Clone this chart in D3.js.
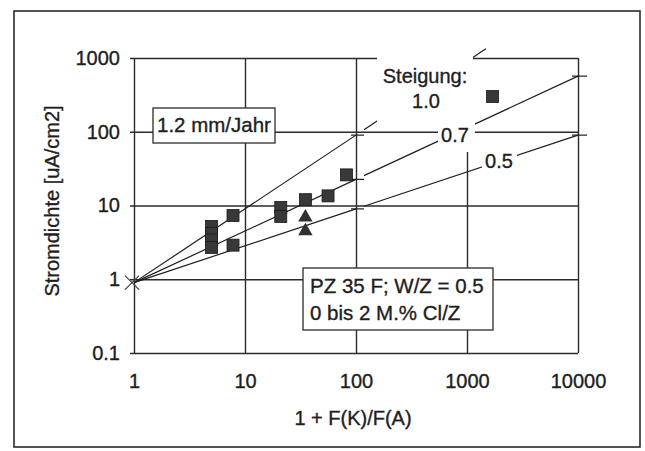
<!DOCTYPE html>
<html>
<head>
<meta charset="utf-8">
<script src="https://cdn.jsdelivr.net/npm/d3@7"></script>
<style>
  body { margin: 0; background: #fff; }
  text { font-family: "Liberation Sans", Arial, sans-serif; stroke: #1e1e1e; stroke-width: 0.35px; }
</style>
</head>
<body>
<div id="chart"></div>
<script>
// tick values of both log axes
const xTicks = [1, 10, 100, 1000, 10000];
const yTicks = [0.1, 1, 10, 100, 1000];
const xTickLabels = ["1", "10", "100", "1000", "10000"];
const yTickLabels = ["0.1", "1", "10", "100", "1000"];

// measured points
const squareX = [5, 5, 5, 5, 7.8, 7.8, 21, 21, 35, 56, 82, 1700];
const squareY = [5.2, 4.2, 3.4, 2.7, 7.3, 2.9, 9.4, 7.1, 12, 13.5, 26, 300];
const triangleX = [35, 35];
const triangleY = [6.9, 4.5];

// reference lines starting at the X marker
const slopes = [1.0, 0.7, 0.5];
const slopeLabels = ["1.0", "0.7", "0.5"];
const lineEnds = [1480, 10000, 10000];
const startX = 1;
const startY = 0.9;
const breakX = 100;   // lines are broken here with a small dash
const resumeX = 118;

const ink = "#1e1e1e";

document.addEventListener("DOMContentLoaded", () => {

    const svg = d3.select("#chart")
        .append("svg")
        .attr("width", 645)
        .attr("height", 451);

    // outer frame of the scan
    svg.append("rect")
        .attr("x", 14).attr("y", 11)
        .attr("width", 626).attr("height", 436)
        .attr("fill", "none")
        .attr("stroke", "#2a2a2a")
        .attr("stroke-width", 1.6);

    const x = d3.scaleLog().domain([1, 10000]).range([134, 578]);
    const y = d3.scaleLog().domain([0.1, 1000]).range([353, 58]);
    const plotW = x.range()[1] - x.range()[0];
    const plotH = y.range()[0] - y.range()[1];

    // grid lines come from the axes
    const gx = svg.append("g")
        .attr("transform", `translate(0,${y(0.1)})`)
        .call(d3.axisBottom(x)
            .tickValues(xTicks)
            .tickFormat((d, i) => xTickLabels[i])
            .tickSizeInner(-plotH)
            .tickSizeOuter(0)
            .tickPadding(21));

    const gy = svg.append("g")
        .attr("transform", `translate(${x(1)},0)`)
        .call(d3.axisLeft(y)
            .tickValues(yTicks)
            .tickFormat((d, i) => yTickLabels[i])
            .tickSizeInner(-plotW)
            .tickSizeOuter(0)
            .tickPadding(14));
    gy.selectAll(".tick line").attr("x1", -4);

    [gx, gy].forEach(g => {
        g.select(".domain").remove();
        g.attr("font-size", 20)
            .attr("font-family", "'Liberation Sans', Arial, sans-serif")
            .attr("color", ink);
        g.selectAll(".tick line")
            .attr("stroke", "#2b2b2b")
            .attr("stroke-width", 1.4);
    });

    // reference lines y = startY * x^slope
    const f = (v, s) => startY * Math.pow(v / startX, s);
    const line = d3.line().x(d => x(d[0])).y(d => y(d[1]));

    slopes.forEach((s, i) => {
        const segs = [[startX, breakX], [resumeX, lineEnds[i]]];
        segs.forEach(seg => {
            svg.append("path")
                .attr("d", line(seg.map(v => [v, f(v, s)])))
                .attr("fill", "none")
                .attr("stroke", ink)
                .attr("stroke-width", 1.2);
        });
        // small dash at the break
        svg.append("line")
            .attr("x1", x(breakX) - 5).attr("x2", x(breakX) + 8)
            .attr("y1", y(f(breakX, s))).attr("y2", y(f(breakX, s)))
            .attr("stroke", ink).attr("stroke-width", 1.2);
        if (lineEnds[i] === 10000) {
            svg.append("line")
                .attr("x1", x(10000) - 6).attr("x2", x(10000) + 9)
                .attr("y1", y(f(10000, s))).attr("y2", y(f(10000, s)))
                .attr("stroke", ink).attr("stroke-width", 1.2);
        }
    });

    // white label backgrounds that cut lines and grid
    const masks = [[377, 44, 96, 81], [438, 120, 37, 32], [482, 147, 35, 28]];
    svg.selectAll("rect.mask")
        .data(masks)
        .enter()
        .append("rect")
        .attr("class", "mask")
        .attr("x", d => d[0]).attr("y", d => d[1])
        .attr("width", d => d[2]).attr("height", d => d[3])
        .attr("fill", "#fff");

    const label = (t, px, py, anchor) => svg.append("text")
        .attr("x", px).attr("y", py)
        .attr("text-anchor", anchor || "middle")
        .attr("font-size", 20)
        .attr("fill", ink)
        .text(t);

    label("Steigung:", 425, 83);
    label(slopeLabels[0], 426, 108);
    label(slopeLabels[1], 455, 142);
    label(slopeLabels[2], 499, 168);

    // data points
    svg.selectAll("rect.pt")
        .data(squareX)
        .enter()
        .append("rect")
        .attr("class", "pt")
        .attr("x", d => x(d) - 6)
        .attr("y", (d, i) => y(squareY[i]) - 6)
        .attr("width", 12).attr("height", 12)
        .attr("fill", "#383838")
        .attr("stroke", "#1a1a1a")
        .attr("stroke-width", 0.8);

    svg.selectAll("path.tri")
        .data(triangleX)
        .enter()
        .append("path")
        .attr("class", "tri")
        .attr("d", d3.symbol(d3.symbolTriangle, 90))
        .attr("transform", (d, i) => `translate(${x(d)},${y(triangleY[i])})`)
        .attr("fill", "#303030");

    // start marker
    const mx = x(startX) - 2, my = y(startY);
    svg.append("path")
        .attr("d", `M${mx - 7},${my - 7}L${mx + 7},${my + 7}M${mx - 7},${my + 7}L${mx + 7},${my - 7}`)
        .attr("stroke", "#444")
        .attr("stroke-width", 1.2);

    // annotation boxes
    svg.append("rect")
        .attr("x", 153).attr("y", 108)
        .attr("width", 122).attr("height", 35)
        .attr("fill", "#fff").attr("stroke", "#2b2b2b").attr("stroke-width", 1.3);
    label("1.2 mm/Jahr", 157, 132, "start").attr("font-size", 20.5);

    svg.append("rect")
        .attr("x", 303).attr("y", 268)
        .attr("width", 190).attr("height", 62)
        .attr("fill", "#fff").attr("stroke", "#2b2b2b").attr("stroke-width", 1.3);
    label("PZ 35 F; W/Z = 0.5", 310, 293, "start").attr("font-size", 20.5);
    label("0 bis 2 M.% Cl/Z", 310, 320, "start").attr("font-size", 20.5);

    // axis titles
    label("1 + F(K)/F(A)", 353, 425);
    svg.append("text")
        .attr("transform", "translate(59,201) rotate(-90)")
        .attr("text-anchor", "middle")
        .attr("font-size", 20)
        .attr("fill", ink)
        .text("Stromdichte [uA/cm2]");
});
</script>
</body>
</html>
